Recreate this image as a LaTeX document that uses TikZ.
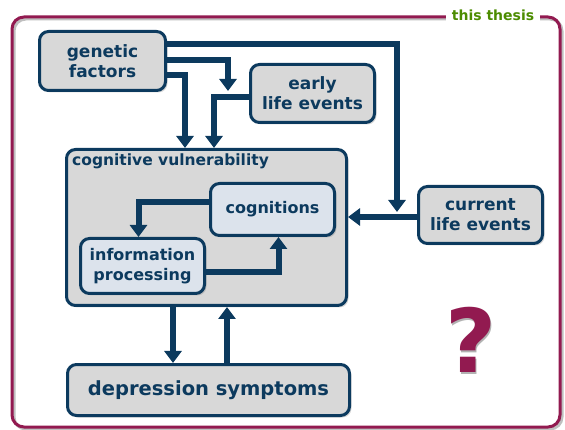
\documentclass[tikz,border=0pt]{standalone}
\usepackage{fontspec}
\setmainfont{DejaVu Sans}
\usetikzlibrary{arrows.meta,shadows}
\definecolor{navy}{RGB}{12,58,94}
\definecolor{boxgray}{RGB}{216,216,216}
\definecolor{paleblue}{RGB}{220,227,236}
\definecolor{thesisred}{RGB}{146,26,80}
\definecolor{thesisgreen}{RGB}{76,140,0}
\begin{document}
\begin{tikzpicture}[x=1pt,y=-1pt,
    box/.style={draw=navy,line width=3pt,fill=boxgray,rounded corners=9pt,
      align=center,text=navy,inner sep=2pt,
      font=\bfseries\fontsize{17}{20}\selectfont,
      drop shadow={shadow xshift=2pt,shadow yshift=-2pt,opacity=0.3}},
    innerbox/.style={box,fill=paleblue,font=\bfseries\fontsize{16}{20}\selectfont},
    arr/.style={draw=navy,line width=6pt,-{Triangle[width=17pt,length=12pt]}}]
      \useasboundingbox (0,0) rectangle (565,430) ;
      \draw[black!25, line width=3pt, rounded corners=12pt] (14,19) rectangle (562,429) ;
      \draw[thesisred, line width=3pt, rounded corners=12pt] (12,17) rectangle (560,427) ;
      \node[fill=white, text=thesisgreen, inner xsep=6pt, inner ysep=1pt,
        font=\bfseries\fontsize{14}{16}\selectfont] (thesis) at (493,15) {this thesis} ;
      \node[box, minimum width=126, minimum height=59] (genetic) at (102.5,61) {genetic\\factors} ;
      \node[box, minimum width=124, minimum height=58] (early) at (312.5,93.5) {early\\life events} ;
      \node[box, minimum width=124, minimum height=57] (current) at (480.5,215) {current\\life events} ;
      \node[box, minimum width=280, minimum height=156] (cogvul) at (206.5,227.5) {} ;
      \node[anchor=north west, text=navy, inner sep=2pt,
        font=\bfseries\fontsize{15.5}{18}\selectfont] %
        (cvlabel) at ([xshift=5pt,yshift=-4pt]cogvul.north west) {cognitive vulnerability} ;
      \node[innerbox, minimum width=124, minimum height=52] (cognitions) at (272.5,209.5) {cognitions} ;
      \node[innerbox, minimum width=124, minimum height=55] (info) at (142.5,266) {information\\processing} ;
      \node[box, minimum width=282, minimum height=51,
        font=\bfseries\fontsize{19.5}{22}\selectfont] (depression) at (208.5,390) {depression symptoms} ;
      \coordinate (cjoin) at (397,212) ;
      \coordinate (ejoin) at (228,91) ;
      \draw[arr] ([yshift=-2pt]current.west) -- ([yshift=-2pt]current.west -| cogvul.east) ;
      \draw[arr] ([yshift=17pt]genetic.east) -| (cjoin) ;
      \draw[arr] ([yshift=1pt]genetic.east) -| (ejoin) ;
      \draw[arr] ([yshift=-14pt]genetic.east) -| (cogvul.north -| 185,0) ;
      \draw[arr] ([yshift=-3.5pt]early.west) -| (cogvul.north -| 214,0) ;
      \draw[arr] ([yshift=7pt]cognitions.west) -| ([xshift=-4pt]info.north) ;
      \draw[arr] ([yshift=-6pt]info.east) -| ([xshift=6pt]cognitions.south) ;
      \draw[arr] (cogvul.south -| 173,0) -- (depression.north -| 173,0) ;
      \draw[arr] (depression.north -| 227,0) -- (cogvul.south -| 227,0) ;
      \node[text=black!30, font=\bfseries\fontsize{88}{88}\selectfont] at (472.5,341.5) {?} ;
      \node[text=thesisred, font=\bfseries\fontsize{88}{88}\selectfont] (qmark) at (471,340) {?} ;
\end{tikzpicture}
\end{document}
